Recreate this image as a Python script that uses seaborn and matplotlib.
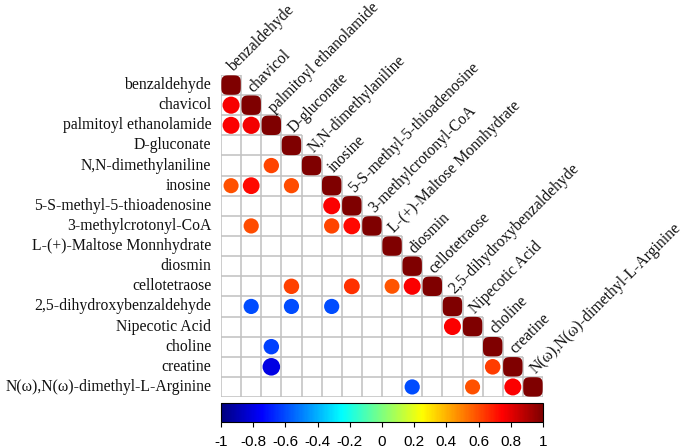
import numpy as np
import pandas as pd
import matplotlib
matplotlib.use("Agg")
import matplotlib.pyplot as plt
from matplotlib.colors import LinearSegmentedColormap, ListedColormap, Normalize
from matplotlib.path import Path
import seaborn as sns

# ---------------- data ----------------
variables = [
    "benzaldehyde", "chavicol", "palmitoyl ethanolamide", "D-gluconate",
    "N,N-dimethylaniline", "inosine", "5-S-methyl-5-thioadenosine",
    "3-methylcrotonyl-CoA", "L-(+)-Maltose Monnhydrate", "diosmin",
    "cellotetraose", "2,5-dihydroxybenzaldehyde", "Nipecotic Acid",
    "choline", "creatine", "N(\u03c9),N(\u03c9)-dimethyl-L-Arginine",
]

# significant off-diagonal correlations (row variable, column variable, r)
pair_row = [
    "chavicol", "palmitoyl ethanolamide", "palmitoyl ethanolamide",
    "N,N-dimethylaniline",
    "inosine", "inosine", "inosine",
    "5-S-methyl-5-thioadenosine",
    "3-methylcrotonyl-CoA", "3-methylcrotonyl-CoA", "3-methylcrotonyl-CoA",
    "cellotetraose", "cellotetraose", "cellotetraose", "cellotetraose",
    "2,5-dihydroxybenzaldehyde", "2,5-dihydroxybenzaldehyde", "2,5-dihydroxybenzaldehyde",
    "Nipecotic Acid",
    "choline",
    "creatine", "creatine",
    "N(\u03c9),N(\u03c9)-dimethyl-L-Arginine", "N(\u03c9),N(\u03c9)-dimethyl-L-Arginine",
    "N(\u03c9),N(\u03c9)-dimethyl-L-Arginine",
]
pair_col = [
    "benzaldehyde", "benzaldehyde", "chavicol",
    "palmitoyl ethanolamide",
    "benzaldehyde", "chavicol", "D-gluconate",
    "inosine",
    "chavicol", "inosine", "5-S-methyl-5-thioadenosine",
    "D-gluconate", "5-S-methyl-5-thioadenosine", "L-(+)-Maltose Monnhydrate", "diosmin",
    "chavicol", "D-gluconate", "inosine",
    "2,5-dihydroxybenzaldehyde",
    "palmitoyl ethanolamide",
    "palmitoyl ethanolamide", "choline",
    "diosmin", "Nipecotic Acid", "creatine",
]
pair_r = [
    0.76, 0.75, 0.77,
    0.61,
    0.59, 0.73, 0.60,
    0.75,
    0.60, 0.61, 0.73,
    0.62, 0.65, 0.58, 0.75,
    -0.60, -0.60, -0.60,
    0.75,
    -0.62,
    -0.80, 0.63,
    -0.60, 0.59, 0.75,
]
diag_r = [1.0] * len(variables)

cbar_ticks = [-1, -0.8, -0.6, -0.4, -0.2, 0, 0.2, 0.4, 0.6, 0.8, 1]
cbar_ticklabels = ["-1", "-0.8", "-0.6", "-0.4", "-0.2", "0", "0.2", "0.4", "0.6", "0.8", "1"]

# ---------------- styling ----------------
sns.set_theme(style="white")
plt.rcParams["font.family"] = ["Liberation Serif", "DejaVu Serif"]

cmap = LinearSegmentedColormap.from_list(
    "jetcor",
    ["#00007F", "#0000FF", "#007FFF", "#00FFFF", "#7FFF7F",
     "#FFFF00", "#FF7F00", "#FF0000", "#7F0000"])
norm = Normalize(-1, 1)

n = len(variables)
idx = {v: i for i, v in enumerate(variables)}

fig = plt.figure(figsize=(6.86, 4.48), dpi=100)
ax = fig.add_axes([221 / 686, 51 / 448, 322 / 686, 322 / 448])

# lower-triangle white cells (labels come from the heatmap)
mask = np.triu(np.ones((n, n), dtype=bool), k=1)
sns.heatmap(np.zeros((n, n)), mask=mask, cmap=ListedColormap(["white"]),
            cbar=False, linewidths=0, square=False,
            xticklabels=False, yticklabels=variables, ax=ax)

# grey grid only around the lower-triangle cells
grid_kw = dict(color="#C2C2C2", linewidth=1.15, zorder=2)
for k in range(n + 1):
    ax.hlines(k, 0, min(k + 1, n), **grid_kw)
    ax.vlines(k, max(k - 1, 0), n, **grid_kw)

# off-diagonal circles
df = pd.DataFrame({"row": pair_row, "col": pair_col, "r": pair_r})
df["x"] = df["col"].map(idx) + 0.5
df["y"] = df["row"].map(idx) + 0.5
df["a"] = df["r"].abs()
S_FULL = 200
sns.scatterplot(data=df, x="x", y="y", hue="r", palette=cmap, hue_norm=(-1, 1),
                size="a", sizes=(0, S_FULL), size_norm=(0, 1),
                linewidth=0, legend=False, ax=ax, zorder=3)

# diagonal (r = 1) drawn as rounded squares
t = np.linspace(0, 2 * np.pi, 200)
pw = 2 / 4.0
sx = np.sign(np.cos(t)) * np.abs(np.cos(t)) ** pw
sy = np.sign(np.sin(t)) * np.abs(np.sin(t)) ** pw
squircle = Path(np.column_stack([sx, sy]), closed=True)
dd = pd.DataFrame({"v": variables, "r": diag_r})
dd["x"] = dd["v"].map(idx) + 0.5
dd["y"] = dd["v"].map(idx) + 0.5
sns.scatterplot(data=dd, x="x", y="y", hue="r", palette=cmap, hue_norm=(-1, 1),
                marker=squircle, s=196, linewidth=0, legend=False, ax=ax, zorder=3)

ax.set_xlim(0, n)
ax.set_ylim(n, 0)
ax.set_xlabel("")
ax.set_ylabel("")
ax.tick_params(axis="y", length=0, pad=7, labelsize=11.3, labelrotation=0)
for lab in ax.get_yticklabels():
    lab.set_color("#111111")
for sp in ax.spines.values():
    sp.set_visible(False)

# column labels at the diagonal, rotated 45 degrees
for i, v in enumerate(variables):
    ax.text(i + 0.62, i - 0.12, v, rotation=45, rotation_mode="anchor",
            ha="left", va="baseline", fontsize=11.3, color="#111111")

# colour bar
cax = fig.add_axes([221 / 686, 26 / 448, 322 / 686, 19 / 448])
sm = plt.cm.ScalarMappable(norm=norm, cmap=cmap)
cb = fig.colorbar(sm, cax=cax, orientation="horizontal", ticks=cbar_ticks)
cb.ax.set_xticklabels(cbar_ticklabels)
cb.outline.set_linewidth(0.8)
cb.outline.set_edgecolor("black")
cb.ax.tick_params(axis="x", direction="out", length=3.5, width=0.8, pad=6,
                  labelsize=11, colors="black")
for lab in cb.ax.get_xticklabels():
    lab.set_family(["Liberation Sans", "DejaVu Sans"])

fig.savefig("out.png", dpi=100)
